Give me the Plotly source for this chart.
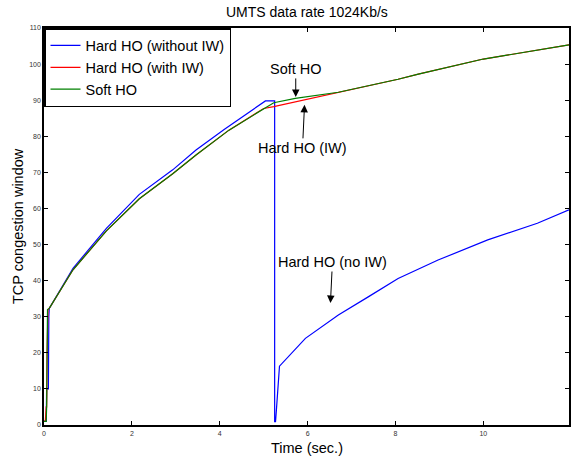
import plotly.graph_objects as go

# Hard HO (without IW)
blue_x = [0.0, 0.03, 0.05, 0.06, 0.10, 0.11, 0.12, 0.66, 1.42, 2.17, 2.93, 3.46, 4.10, 5.04, 5.25,
          5.25, 5.27, 5.29, 5.31, 5.36, 5.95, 6.70, 7.38, 8.06, 8.97, 10.1, 11.23, 11.95]
blue_y = [1.0, 1.0, 1.0, 10.0, 10.0, 30.0, 32.3, 43.4, 54.5, 63.9, 70.7, 76.2, 81.9, 89.8, 89.8,
          0.9, 0.9, 4.2, 8.3, 16.3, 24.0, 30.5, 35.5, 40.6, 45.7, 51.3, 55.9, 59.6]

# Hard HO (with IW)
red_x = [0.0, 0.03, 0.05, 0.06, 0.07, 0.09, 0.12, 0.66, 1.42, 2.17, 2.93, 3.46, 4.21, 5.0,
         5.23, 6.18, 6.70, 8.06, 8.52, 10.0, 11.95]
red_y = [1.0, 1.0, 5.0, 5.0, 20.0, 32.0, 32.3, 43.0, 53.8, 62.7, 69.6, 74.8, 81.7, 87.7,
         88.2, 90.7, 92.2, 95.8, 97.2, 101.4, 105.3]

# Soft HO
green_x = [0.0, 0.03, 0.05, 0.06, 0.07, 0.08, 0.12, 0.66, 1.42, 2.17, 2.93, 3.46, 4.21, 5.0,
           5.23, 5.72, 6.18, 6.70, 8.06, 8.52, 10.0, 11.95]
green_y = [1.0, 1.0, 1.0, 5.0, 20.0, 32.0, 32.3, 43.0, 53.8, 62.7, 69.6, 74.8, 81.7, 87.7,
           89.3, 90.5, 91.2, 92.2, 95.8, 97.2, 101.4, 105.3]

series_names = ["Hard HO (without IW)", "Hard HO (with IW)", "Soft HO"]
x_ticks = [0, 2, 4, 6, 8, 10]
y_ticks = [0, 10, 20, 30, 40, 50, 60, 70, 80, 90, 100, 110]

FONT = "Liberation Sans, Arial"

fig = go.Figure()
for name, xs, ys, col in [(series_names[0], blue_x, blue_y, "#0000ff"),
                          (series_names[1], red_x, red_y, "#ff0000"),
                          (series_names[2], green_x, green_y, "#008000")]:
    fig.add_trace(go.Scatter(x=xs, y=ys, mode="lines", name=name,
                             line=dict(color=col, width=1.2)))

axis_common = dict(showline=True, linecolor="black", linewidth=1.5, mirror="ticks",
                   ticks="inside", ticklen=4, tickcolor="black", showgrid=False,
                   zeroline=False, tickfont=dict(family=FONT, size=7, color="#333"))

fig.update_xaxes(range=[0, 11.95], tickvals=x_ticks, ticklabelstandoff=1, **axis_common)
fig.update_yaxes(range=[0, 110], tickvals=y_ticks, **axis_common)

anns = [
    dict(x=5.73, y=90.9, text="Soft HO", ax=0, ay=-28),
    dict(x=5.93, y=88.7, text="Hard HO (IW)", ax=-2, ay=43),
    dict(x=6.52, y=33.8, text="Hard HO (no IW)", ax=2, ay=-41),
]
annotations = []
for a in anns:
    annotations.append(dict(x=a["x"], y=a["y"], xref="x", yref="y", text=a["text"],
                            showarrow=True, ax=a["ax"], ay=a["ay"], arrowhead=2,
                            arrowsize=1.5, arrowwidth=1, arrowcolor="black",
                            font=dict(family=FONT, size=14.5, color="black")))
annotations.append(dict(x=0.5, y=1, xref="paper", yref="paper", yshift=16, yanchor="middle",
                        text="UMTS data rate 1024Kb/s", showarrow=False,
                        font=dict(family=FONT, size=14, color="black")))
annotations.append(dict(x=0.5, y=0, xref="paper", yref="paper", yshift=-23, yanchor="middle",
                        text="Time (sec.)", showarrow=False,
                        font=dict(family=FONT, size=14.5, color="black")))
annotations.append(dict(x=0, y=0.5, xref="paper", yref="paper", xshift=-26.5, xanchor="center",
                        yanchor="middle",
                        text="TCP congestion window", showarrow=False, textangle=-90,
                        font=dict(family=FONT, size=14.5, color="black")))

fig.update_layout(
    width=571, height=457,
    margin=dict(l=44, r=0, t=28, b=32),
    paper_bgcolor="white", plot_bgcolor="white",
    showlegend=True,
    legend=dict(x=0, y=1, xanchor="left", yanchor="top", bgcolor="white",
                bordercolor="black", borderwidth=1.5,
                font=dict(family=FONT, size=14.5, color="black"),
                tracegroupgap=0, itemwidth=30),
    annotations=annotations,
)

fig.write_html("out.html", config={"displayModeBar": False},
               post_script="document.body.style.margin='0';document.body.style.overflow='hidden';")
